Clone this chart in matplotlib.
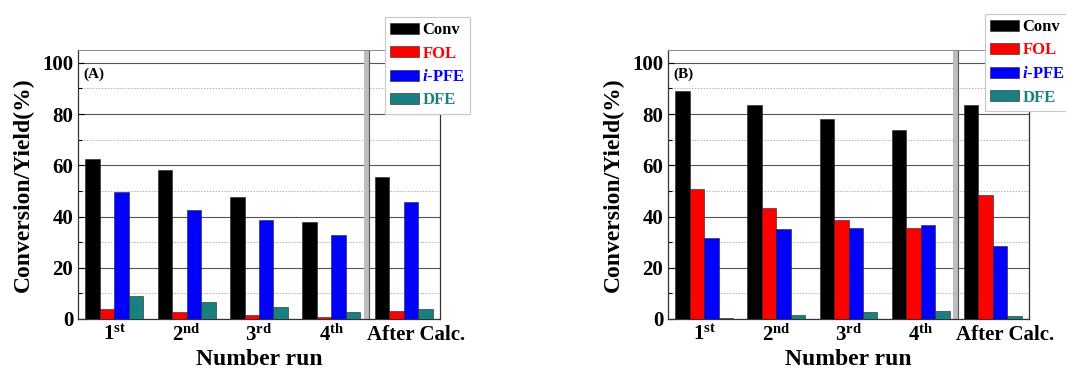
import numpy as np
import matplotlib
matplotlib.use('Agg')
import matplotlib.pyplot as plt
import matplotlib.transforms as mtransforms

plt.rcParams['font.family'] = 'Liberation Serif'
plt.rcParams['font.weight'] = 'bold'
plt.rcParams['mathtext.fontset'] = 'custom'
plt.rcParams['mathtext.rm'] = 'Liberation Serif:bold'
plt.rcParams['mathtext.it'] = 'Liberation Serif:italic:bold'
plt.rcParams['mathtext.bf'] = 'Liberation Serif:bold'
plt.rcParams['mathtext.default'] = 'rm'

runs = ['1$^{st}$', '2$^{nd}$', '3$^{rd}$', '4$^{th}$', 'After Calc.']
series = ['Conv', 'FOL', '$\\mathit{i}$-PFE', 'DFE']
colors = ['#000000', '#ff0000', '#0000ff', '#1a7f7f']

# (A)
conv_a = [62.6, 58.0, 47.7, 37.7, 55.6]
fol_a = [4.0, 2.6, 1.7, 0.6, 3.1]
ipfe_a = [49.4, 42.6, 38.6, 32.9, 45.7]
dfe_a = [9.1, 6.8, 4.7, 2.7, 4.0]
# (B)
conv_b = [89.0, 83.5, 78.1, 73.6, 83.5]
fol_b = [50.9, 43.2, 38.6, 35.6, 48.3]
ipfe_b = [31.7, 35.1, 35.7, 36.5, 28.6]
dfe_b = [0.2, 1.7, 2.7, 3.1, 1.0]

fig = plt.figure(figsize=(10.66, 3.69), dpi=100)
W, H = 1066, 369


def panel(left, right, data, tag, leg_xy):
    ax = fig.add_axes([left / W, 1 - 319 / H, (right - left) / W, 269 / H])
    x = np.arange(1, len(runs) + 1)
    w = 0.2
    handles = []
    for i, vals in enumerate(data):
        b = ax.bar(x + (i - 1.5) * w, vals, w, color=colors[i],
                   edgecolor='#202020', linewidth=0.4, zorder=3)
        handles.append(b)
    ax.set_xlim(0.5, 5.5)
    ax.set_ylim(0, 105)
    ax.set_yticks(np.arange(0, 101, 20))
    ax.set_yticks(np.arange(10, 100, 20), minor=True)
    ax.grid(axis='y', which='major', color='#555555', linewidth=0.8, zorder=0)
    ax.grid(axis='y', which='minor', color='#b0b0b0', linewidth=0.7,
            linestyle=(0, (1.5, 1.5)), zorder=0)
    ax.set_xticks(x)
    ax.set_xticklabels(runs, fontsize=15, fontweight='bold')
    ax.tick_params(axis='x', length=0, pad=4)
    ax.tick_params(axis='y', which='both', direction='in', labelsize=15,
                   length=4, width=0.8)
    ax.tick_params(axis='y', which='minor', length=3)
    for lab in ax.get_yticklabels():
        lab.set_fontweight('bold')
    # shift the last label a bit to the right
    last = ax.get_xticklabels()[-1]
    last.set_transform(last.get_transform() +
                       mtransforms.ScaledTranslation(12 / 100, 0, fig.dpi_scale_trans))
    for s in ['left', 'bottom', 'right']:
        ax.spines[s].set_color('#333333')
        ax.spines[s].set_linewidth(0.9)
    ax.spines['top'].set_color('#888888')
    ax.spines['top'].set_linewidth(0.7)
    # separator before the after-calcination run
    ax.axvspan(4.45, 4.52, color='#bdbdbd', zorder=2, linewidth=0)
    ax.axvline(4.52, color='#555555', linewidth=0.8, zorder=2)
    ax.text(0.015, 0.935, tag, transform=ax.transAxes, fontsize=11,
            fontweight='bold', va='top', ha='left')
    ax.set_xlabel('Number run', fontsize=17, fontweight='bold', labelpad=2)
    ax.set_ylabel('Conversion/Yield(%)', fontsize=17, fontweight='bold', labelpad=6)
    leg = fig.legend(handles, series, loc='upper left',
                     bbox_to_anchor=(leg_xy[0] / W, 1 - leg_xy[1] / H),
                     fontsize=12, handlelength=1.75, handleheight=0.65,
                     handletextpad=0.2, labelspacing=0.45, borderpad=0.3,
                     borderaxespad=0, fancybox=False, framealpha=1,
                     edgecolor='#c8c8c8')
    leg.get_frame().set_linewidth(0.8)
    for t, c in zip(leg.get_texts(), colors):
        t.set_color(c)
        t.set_fontweight('bold')
    return ax


panel(78, 440, [conv_a, fol_a, ipfe_a, dfe_a], '(A)', (385, 17))
panel(668, 1029, [conv_b, fol_b, ipfe_b, dfe_b], '(B)', (985, 14))

fig.savefig('out.png', dpi=100)
